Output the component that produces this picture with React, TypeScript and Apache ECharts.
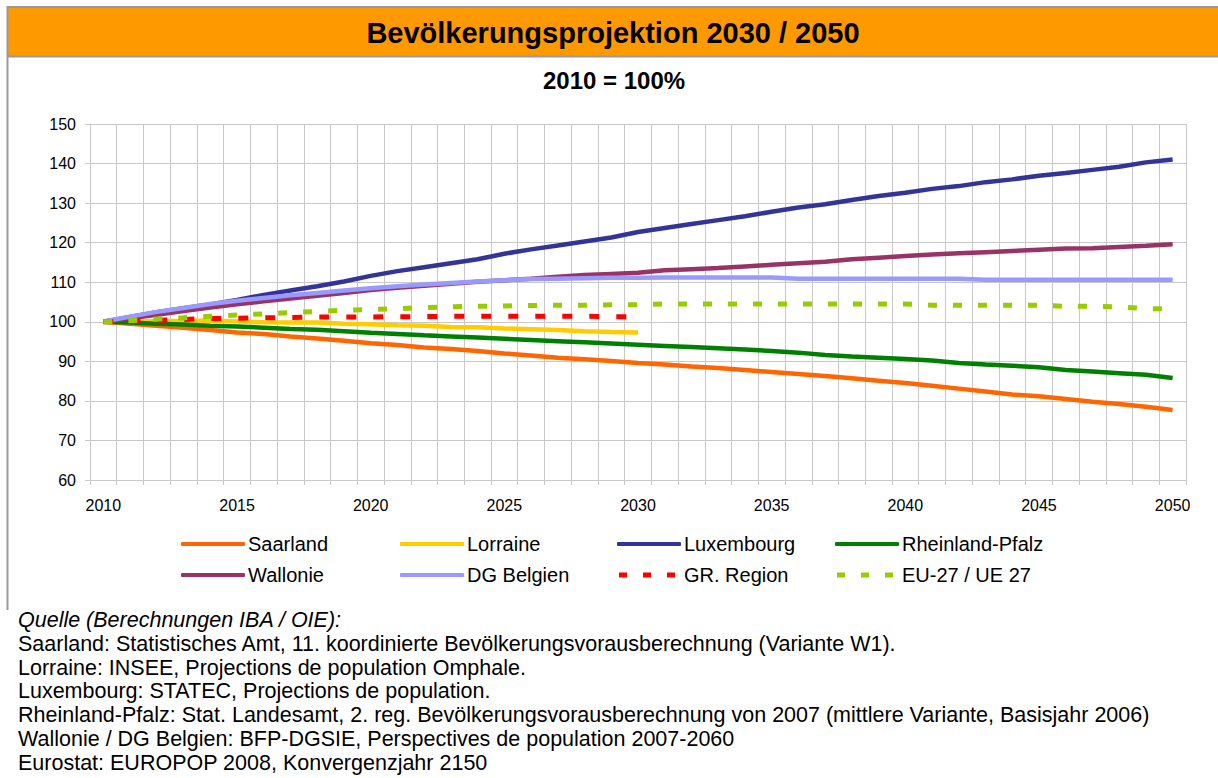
import React, { useEffect, useRef } from "react";
import * as echarts from "echarts";

const FONT = "'Liberation Sans', Arial, Helvetica, sans-serif";

const years = [
  "2010", "2011", "2012", "2013", "2014", "2015", "2016", "2017", "2018", "2019",
  "2020", "2021", "2022", "2023", "2024", "2025", "2026", "2027", "2028", "2029",
  "2030", "2031", "2032", "2033", "2034", "2035", "2036", "2037", "2038", "2039",
  "2040", "2041", "2042", "2043", "2044", "2045", "2046", "2047", "2048", "2049",
  "2050",
];

const saarland = [
  100, 99.5, 99.0, 98.5, 97.9, 97.3, 96.9, 96.3, 95.8, 95.2,
  94.6, 94.1, 93.5, 93.1, 92.6, 92.0, 91.5, 90.9, 90.5, 90.1,
  89.6, 89.2, 88.7, 88.3, 87.8, 87.3, 86.8, 86.3, 85.7, 85.1,
  84.5, 83.8, 83.1, 82.4, 81.6, 81.2, 80.5, 79.8, 79.2, 78.5,
  77.7,
];

const lorraine = [
  100, 100.1, 100.2, 100.2, 100.3, 100.1, 99.9, 99.8, 99.8, 99.5,
  99.4, 99.1, 99.0, 98.7, 98.6, 98.3, 98.1, 97.9, 97.6, 97.4,
  97.3, null, null, null, null, null, null, null, null, null,
  null, null, null, null, null, null, null, null, null, null,
  null,
];

const luxembourg = [
  100, 101.2, 102.4, 103.4, 104.4, 105.5, 106.8, 107.9, 109.0, 110.2,
  111.6, 112.8, 113.8, 114.8, 115.8, 117.2, 118.3, 119.3, 120.3, 121.3,
  122.7, 123.7, 124.7, 125.7, 126.7, 127.8, 128.9, 129.7, 130.8, 131.8,
  132.6, 133.6, 134.3, 135.3, 136.0, 136.9, 137.6, 138.4, 139.2, 140.3,
  141.0,
];

const rheinlandPfalz = [
  100, 99.8, 99.5, 99.3, 99.0, 98.8, 98.5, 98.2, 98.0, 97.6,
  97.2, 96.9, 96.6, 96.3, 96.0, 95.7, 95.4, 95.1, 94.8, 94.5,
  94.2, 93.9, 93.6, 93.3, 93.0, 92.6, 92.2, 91.6, 91.2, 90.9,
  90.6, 90.2, 89.6, 89.2, 88.9, 88.5, 87.8, 87.4, 87.0, 86.6,
  85.8,
];

const wallonie = [
  100, 100.9, 101.8, 102.7, 103.6, 104.4, 105.2, 105.9, 106.6, 107.3,
  108.0, 108.6, 109.1, 109.6, 110.1, 110.5, 110.9, 111.4, 111.8, 112.1,
  112.4, 113.0, 113.3, 113.6, 114.0, 114.4, 114.8, 115.2, 115.8, 116.2,
  116.6, 117.0, 117.3, 117.6, 117.9, 118.2, 118.5, 118.6, 118.9, 119.2,
  119.6,
];

const dgBelgien = [
  100, 101.3, 102.5, 103.5, 104.5, 105.3, 106.0, 106.7, 107.3, 107.9,
  108.5, 109.0, 109.4, 109.8, 110.2, 110.5, 110.8, 110.9, 111.0, 111.1,
  111.1, 111.2, 111.2, 111.2, 111.2, 111.2, 110.9, 110.9, 110.9, 110.9,
  110.9, 110.9, 110.9, 110.6, 110.6, 110.6, 110.6, 110.6, 110.6, 110.6,
  110.6,
];

const grRegion = [
  100, 100.2, 100.4, 100.6, 100.8, 100.9, 101.0, 101.1, 101.2, 101.2,
  101.2, 101.3, 101.3, 101.4, 101.4, 101.4, 101.4, 101.4, 101.4, 101.3,
  101.3, null, null, null, null, null, null, null, null, null,
  null, null, null, null, null, null, null, null, null, null,
  null,
];

const eu27 = [
  100, 100.3, 100.7, 101.0, 101.4, 101.7, 102.0, 102.3, 102.6, 102.9,
  103.1, 103.3, 103.6, 103.8, 103.9, 104.0, 104.1, 104.2, 104.2, 104.3,
  104.3, 104.5, 104.5, 104.5, 104.5, 104.5, 104.5, 104.5, 104.5, 104.5,
  104.5, 104.2, 104.2, 104.2, 104.2, 104.2, 103.9, 103.9, 103.8, 103.3,
  103.3,
];

const seriesNames = [
  "Saarland", "Lorraine", "Luxembourg", "Rheinland-Pfalz",
  "Wallonie", "DG Belgien", "GR. Region", "EU-27 / UE 27",
];
const seriesData = [saarland, lorraine, luxembourg, rheinlandPfalz, wallonie, dgBelgien, grRegion, eu27];
const seriesColors = ["#FF6600", "#FFCC00", "#333399", "#008000", "#993366", "#9999FF", "#FF0000", "#99CC00"];
const seriesDash: any[] = ["solid", "solid", "solid", "solid", "solid", "solid", [10, 17], [9, 16]];

const titleText = "Bevölkerungsprojektion 2030 / 2050";
const subtitleText = "2010 = 100%";
const sourceLines = [
  "Quelle (Berechnungen IBA / OIE):",
  "Saarland: Statistisches Amt, 11. koordinierte Bevölkerungsvorausberechnung (Variante W1).",
  "Lorraine: INSEE, Projections de population Omphale.",
  "Luxembourg: STATEC, Projections de population.",
  "Rheinland-Pfalz: Stat. Landesamt, 2. reg. Bevölkerungsvorausberechnung von 2007 (mittlere Variante, Basisjahr 2006)",
  "Wallonie / DG Belgien: BFP-DGSIE, Perspectives de population 2007-2060",
  "Eurostat: EUROPOP 2008, Konvergenzjahr 2150",
];

const DASH_ICON = "path://M0,0h8v5h-8zM24,0h8v5h-8zM48,0h8v5h-8z";

export default function App() {
  const ref = useRef<HTMLDivElement>(null);
  useEffect(() => {
    if (!ref.current) return;
    const chart = echarts.init(ref.current, null, { renderer: "svg" });

    const legendCols = [181, 400, 617, 835];
    const legendRows = [534, 565];
    const legends = seriesNames.map((n, i) => {
      const dashed = i >= 6;
      const col = legendCols[i % 4];
      const left = dashed ? col + 2 : col;
      const itemWidth = dashed ? 56 : 64;
      const textX = col + 67;
      const pad = textX - (left + itemWidth + 5);
      return {
        data: [{ name: n, icon: dashed ? DASH_ICON : "roundRect" }],
        left,
        top: legendRows[Math.floor(i / 4)],
        itemWidth,
        itemHeight: dashed ? 5 : 4,
        itemGap: 0,
        padding: 0,
        symbolKeepAspect: false,
        selectedMode: false,
        itemStyle: { color: seriesColors[i], borderWidth: 0 },
        textStyle: { fontSize: 20, color: "#000", fontFamily: FONT, padding: [0, 0, 0, pad] },
      };
    });

    const graphics: any[] = [
      { type: "rect", shape: { x: 7, y: 8, width: 1211, height: 48 }, style: { fill: "#FF9900" }, z: 0 },
      { type: "line", shape: { x1: 7, y1: 7, x2: 1218, y2: 7 }, style: { stroke: "#999", lineWidth: 2 } },
      { type: "line", shape: { x1: 7, y1: 56.5, x2: 1218, y2: 56.5 }, style: { stroke: "#999", lineWidth: 2 } },
      { type: "line", shape: { x1: 7.5, y1: 6, x2: 7.5, y2: 610 }, style: { stroke: "#999", lineWidth: 2 } },
      {
        type: "text", x: 613, y: 33,
        style: { text: titleText, align: "center", verticalAlign: "middle", fontSize: 29, fontWeight: "bold", fontFamily: FONT, fill: "#000" },
      },
      {
        type: "text", x: 614, y: 80,
        style: { text: subtitleText, align: "center", verticalAlign: "middle", fontSize: 24, fontWeight: "bold", fontFamily: FONT, fill: "#000" },
      },
      ...sourceLines.map((t, i) => ({
        type: "text", x: 18, y: 620 + i * 23.8,
        style: { text: t, align: "left", verticalAlign: "middle", fontSize: 21.5, fontStyle: i === 0 ? "italic" : "normal", fontFamily: FONT, fill: "#000" },
      })),
    ];

    chart.setOption({
      animation: false,
      grid: { left: 90, right: 32, top: 124, bottom: 298, containLabel: false },
      legend: legends,
      graphic: graphics,
      xAxis: {
        type: "category",
        data: years,
        boundaryGap: true,
        axisLine: { show: true, lineStyle: { color: "#c8c8c8", width: 1 } },
        axisTick: { show: true, interval: 0, length: 5, lineStyle: { color: "#c8c8c8" } },
        axisLabel: { interval: 4, color: "#000", fontSize: 16, margin: 17, fontFamily: FONT },
        splitLine: { show: true, interval: 0, lineStyle: { color: "#c8c8c8", width: 1 } },
      },
      yAxis: {
        type: "value",
        min: 60,
        max: 150,
        interval: 10,
        axisLine: { show: true, lineStyle: { color: "#c8c8c8", width: 1 } },
        axisTick: { show: true, length: 5, lineStyle: { color: "#c8c8c8" } },
        axisLabel: { color: "#000", fontSize: 16, margin: 14, fontFamily: FONT },
        splitLine: { show: true, lineStyle: { color: "#c8c8c8", width: 1 } },
      },
      series: seriesNames.map((n, i) => ({
        name: n,
        type: "line",
        data: seriesData[i],
        symbol: "none",
        showSymbol: false,
        connectNulls: false,
        lineStyle: { color: seriesColors[i], width: i >= 6 ? 5 : 4.5, type: seriesDash[i], cap: "butt" },
        itemStyle: { color: seriesColors[i] },
        emphasis: { disabled: true },
        z: 2 + i,
      })),
    });
    return () => chart.dispose();
  }, []);

  return (
    <div
      ref={ref}
      style={{ position: "absolute", left: 0, top: 0, width: 1218, height: 778, background: "#fff" }}
    />
  );
}
